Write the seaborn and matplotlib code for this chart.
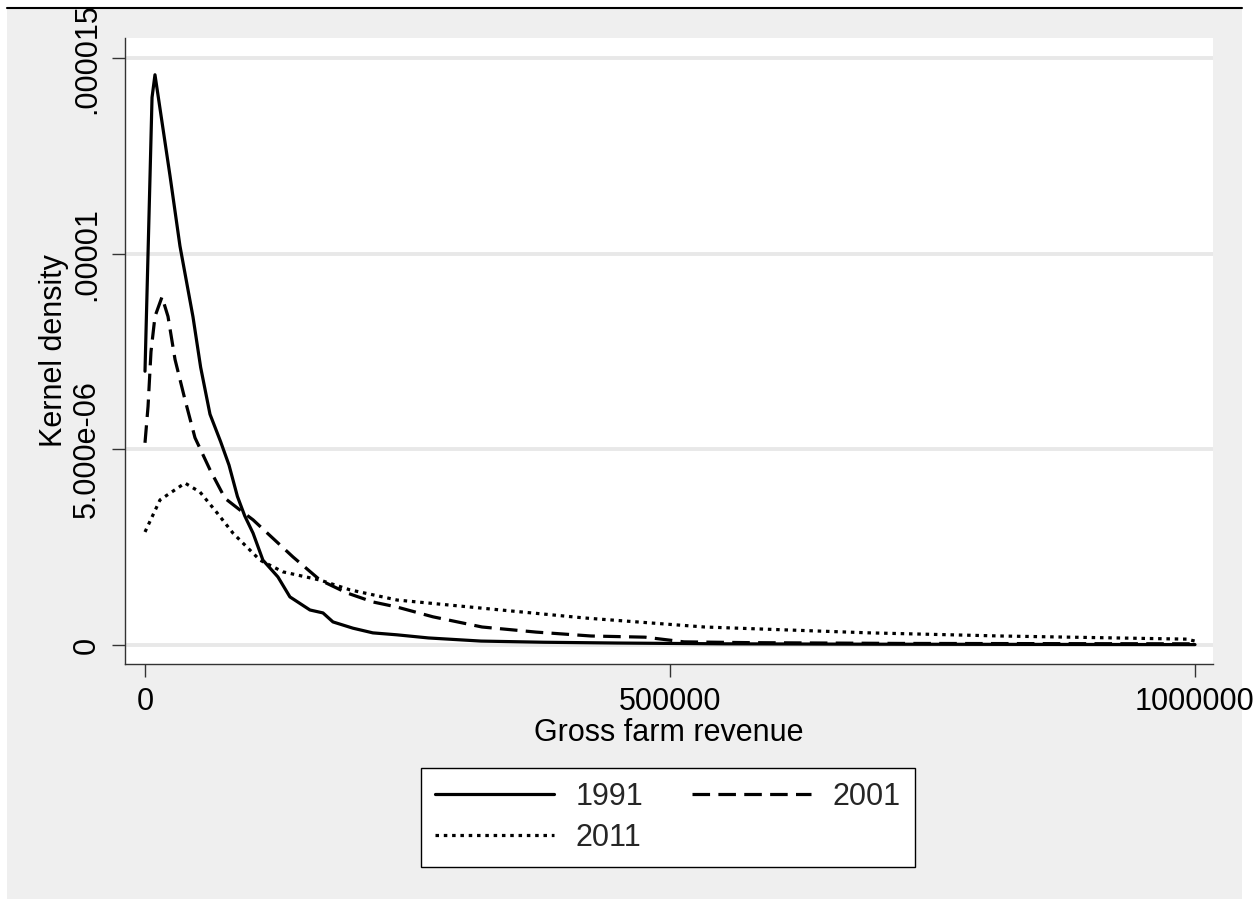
import numpy as np
import pandas as pd
import matplotlib
matplotlib.use("Agg")
import matplotlib.pyplot as plt
from matplotlib.patches import Rectangle
from matplotlib.lines import Line2D
import seaborn as sns

# ---- data ----
years = ["1991", "2001", "2011"]

rev_1991 = [0, 4800, 6700, 9500, 23800, 33300, 45700, 53000, 61900, 72000, 80000, 88000,
            95000, 102900, 112300, 126600, 138000, 157100, 169500, 179000, 198000, 217000,
            240000, 270000, 320000, 380000, 450000, 550000, 700000, 850000, 1000000]
den_1991 = [7.0e-6, 1.2e-5, 1.40e-5, 1.458e-5, 1.20e-5, 1.02e-5, 8.39e-6, 7.1e-6, 5.9e-6,
            5.2e-6, 4.6e-6, 3.8e-6, 3.3e-6, 2.86e-6, 2.17e-6, 1.74e-6, 1.23e-6, 8.95e-7,
            8.2e-7, 5.9e-7, 4.3e-7, 3.1e-7, 2.6e-7, 1.8e-7, 1.0e-7, 7e-8, 5e-8, 3e-8,
            2e-8, 1.5e-8, 1e-8]

rev_2001 = [0, 2900, 5700, 9500, 16200, 21900, 28600, 38100, 47600, 61900, 76200,
            90500, 102900, 141000, 166700, 192400, 217100, 240000, 274300, 321000,
            372400, 424800, 476200, 513300, 576200, 719000, 1000000]
den_2001 = [5.17e-6, 6.1e-6, 7.5e-6, 8.4e-6, 8.9e-6, 8.4e-6, 7.3e-6, 6.27e-6, 5.3e-6,
            4.48e-6, 3.75e-6, 3.45e-6, 3.2e-6, 2.25e-6, 1.66e-6, 1.33e-6, 1.10e-6, 9.7e-7,
            7.2e-7, 4.6e-7, 3.3e-7, 2.3e-7, 2.0e-7, 8e-8, 6e-8, 4e-8, 3e-8]

rev_2011 = [0, 14300, 38100, 52400, 68600, 83800, 109500, 131400, 166700, 195200,
            240000, 337000, 419000, 533000, 690000, 815000, 992000, 1000000]
den_2011 = [2.89e-6, 3.71e-6, 4.14e-6, 3.91e-6, 3.38e-6, 2.86e-6, 2.17e-6, 1.87e-6,
            1.66e-6, 1.41e-6, 1.15e-6, 9.0e-7, 6.9e-7, 4.6e-7, 3.1e-7, 2.3e-7, 1.5e-7, 1.0e-7]

x_ticks = [0, 500000, 1000000]
y_ticks = [0, 5e-6, 1e-5, 1.5e-5]
y_tick_labels = ["0", "5.000e-06", ".00001", ".000015"]
x_label = "Gross farm revenue"
y_label = "Kernel density"

df = pd.concat([
    pd.DataFrame({"revenue": rev_1991, "density": den_1991, "year": "1991"}),
    pd.DataFrame({"revenue": rev_2001, "density": den_2001, "year": "2001"}),
    pd.DataFrame({"revenue": rev_2011, "density": den_2011, "year": "2011"}),
], ignore_index=True)

# ---- style ----
sns.set_theme(style="white")
plt.rcParams["font.family"] = ["Liberation Sans", "DejaVu Sans"]

W, H = 1253, 899
fig = plt.figure(figsize=(W / 100, H / 100), dpi=100)
fig.patch.set_facecolor("white")
fig.patches.append(Rectangle((7 / W, 0), (1242 - 7) / W, 1 - 7 / H,
                             transform=fig.transFigure, facecolor="#efefef",
                             edgecolor="none", zorder=-10))

ax = fig.add_axes([125 / W, 1 - 664 / H, (1213 - 125) / W, (664 - 38) / H])
ax.set_facecolor("white")

dash_styles = {"1991": "", "2001": (5.5, 2.6), "2011": (1.1, 1.5)}
sns.lineplot(data=df, x="revenue", y="density", style="year", style_order=years,
             dashes=dash_styles, color="black", linewidth=2.3, ax=ax, legend=False,
             sort=False, estimator=None)
for ln in ax.get_lines():
    ln.set_dash_capstyle("butt")

ax.set_xlim(-19048, 1017143)
ax.set_ylim(-4.86e-7, 1.552e-5)
ax.set_xticks(x_ticks)
ax.set_xticklabels([str(v) for v in x_ticks])
ax.set_yticks(y_ticks)
ax.set_yticklabels(y_tick_labels, rotation=90, va="center")
for y in y_ticks:
    ax.axhline(y, color="#e8e8e8", lw=2.8, zorder=0)

for s in ["top", "right"]:
    ax.spines[s].set_visible(False)
for s in ["left", "bottom"]:
    ax.spines[s].set_color("#333333")
    ax.spines[s].set_linewidth(1.0)

ax.tick_params(axis="both", which="major", direction="out", length=9.5, width=1,
               color="#333333", labelsize=22, labelcolor="black", left=True, bottom=True)
ax.tick_params(axis="y", pad=7)
ax.tick_params(axis="x", pad=7)
ax.set_xlabel(x_label, fontsize=22, color="black", labelpad=1)
ax.set_ylabel(y_label, fontsize=22, color="black", labelpad=2)

h1991 = Line2D([], [], color="black", lw=2.3, linestyle="-")
h2001 = Line2D([], [], color="black", lw=2.3, dashes=(5.5, 2.6), dash_capstyle="butt")
h2011 = Line2D([], [], color="black", lw=2.3, dashes=(1.1, 1.5), dash_capstyle="butt")
# matplotlib fills columns first; order gives rows: 1991 2001 / 2011
leg = fig.legend([h1991, h2011, h2001], [years[0], years[2], years[1]], ncol=2,
                 loc="center", bbox_to_anchor=(668 / W, 1 - 817.5 / H), fontsize=22,
                 frameon=True, fancybox=False, framealpha=1, edgecolor="black",
                 handlelength=3.9, handletextpad=0.7, columnspacing=1.6,
                 labelspacing=0.35, borderpad=0.45)
leg.get_frame().set_linewidth(1.0)

fig.patches.append(Rectangle((0, 1 - 7 / H), 1, 7 / H, transform=fig.transFigure,
                             facecolor="white", edgecolor="none", zorder=50))
fig.lines.append(Line2D([7 / W, 1242 / W], [1 - 7.5 / H, 1 - 7.5 / H],
                        transform=fig.transFigure, color="black", lw=1.5, zorder=51))

fig.savefig("out.png", dpi=100)
